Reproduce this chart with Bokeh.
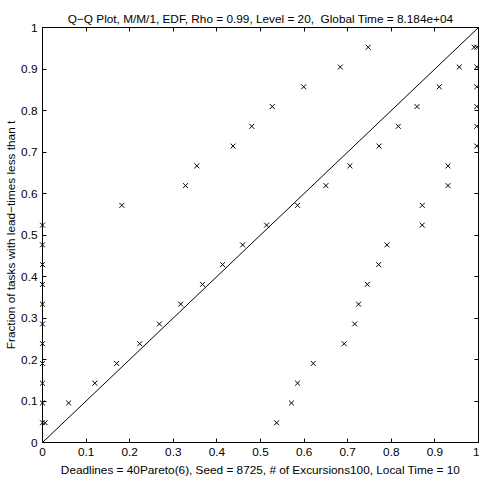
from bokeh.plotting import figure
from bokeh.models import Range1d, LinearAxis, FixedTicker
from bokeh.embed import file_html
from bokeh.resources import INLINE

# Empirical fractions (k/21) shared by all three samples
frac = [0.0476, 0.0952, 0.1429, 0.1905, 0.2381, 0.2857, 0.3333, 0.3810, 0.4286, 0.4762,
        0.5238, 0.5714, 0.6190, 0.6667, 0.7143, 0.7619, 0.8095, 0.8571, 0.9048, 0.9524]

# Quantile (x) values of the three samples
sample_a = [0.006, 0.060, 0.120, 0.170, 0.223, 0.268, 0.317, 0.367, 0.413, 0.459,
            0.514, 0.585, 0.650, 0.705, 0.772, 0.816, 0.859, 0.910, 0.956, 0.990]
sample_b = [0.0, 0.0, 0.0, 0.0, 0.0, 0.0, 0.0, 0.0, 0.0, 0.0,
            0.0, 0.182, 0.328, 0.354, 0.437, 0.480, 0.527, 0.599, 0.683, 0.747]
sample_c = [0.537, 0.571, 0.585, 0.621, 0.692, 0.716, 0.725, 0.745, 0.771, 0.790,
            0.871, 0.871, 0.930, 0.930, 0.996, 0.996, 0.996, 0.996, 0.996, 0.996]

ref_x = [0.0, 1.0]
ref_y = [0.0, 1.0]

tick_vals = [0.0, 0.1, 0.2, 0.3, 0.4, 0.5, 0.6, 0.7, 0.8, 0.9, 1.0]
tick_labels = ["0", "0.1", "0.2", "0.3", "0.4", "0.5", "0.6", "0.7", "0.8", "0.9", "1"]

title_text = "Q\u2212Q Plot, M/M/1, EDF, Rho = 0.99, Level = 20, \u00a0Global Time = 8.184e+04"
x_label = "Deadlines = 40Pareto(6), Seed = 8725, # of Excursions100, Local Time = 10"
y_label = "Fraction of tasks with lead\u2212times less than t"

FONT = "Liberation Sans"
FS = "11.8px"

p = figure(width=479, height=483, output_backend="svg", toolbar_location=None,
           x_range=Range1d(0, 1), y_range=Range1d(0, 1),
           min_border_left=42, min_border_right=1, min_border_top=27, min_border_bottom=41)
p.background_fill_color = "white"
p.border_fill_color = "white"
p.outline_line_color = "black"
p.outline_line_width = 1
p.xgrid.visible = False
p.ygrid.visible = False

p.title.text = title_text
p.title.align = "center"
p.title.text_font = FONT
p.title.text_font_size = FS
p.title.text_font_style = "normal"
p.title.text_color = "black"
p.title.standoff = 4

labels_map = {v: s for v, s in zip(tick_vals, tick_labels)}

def style_axis(ax, show_labels):
    ax.ticker = FixedTicker(ticks=tick_vals)
    ax.major_tick_in = 4
    ax.major_tick_out = 0
    ax.minor_tick_line_color = None
    ax.axis_line_color = "black"
    ax.axis_line_width = 1
    ax.major_tick_line_color = "black"
    ax.major_tick_line_width = 1
    if show_labels:
        ax.major_label_overrides = labels_map
        ax.major_label_text_font = FONT
        ax.major_label_text_font_size = FS
        ax.major_label_text_color = "black"
    else:
        ax.major_label_text_color = None
        ax.major_label_standoff = 0

xa = p.xaxis[0]
style_axis(xa, True)
xa.major_label_standoff = 5
xa.axis_label = x_label
xa.axis_label_text_font = FONT
xa.axis_label_text_font_size = FS
xa.axis_label_text_font_style = "normal"
xa.axis_label_text_color = "black"
xa.axis_label_standoff = 4

ya = p.yaxis[0]
style_axis(ya, True)
ya.major_label_standoff = 5
ya.axis_label = y_label
ya.axis_label_text_font = FONT
ya.axis_label_text_font_size = FS
ya.axis_label_text_font_style = "normal"
ya.axis_label_text_color = "black"
ya.axis_label_standoff = 0

top_ax = LinearAxis()
style_axis(top_ax, False)
p.add_layout(top_ax, "above")

right_ax = LinearAxis()
style_axis(right_ax, False)
p.add_layout(right_ax, "right")

p.line(ref_x, ref_y, line_color="black", line_width=1)
for xs in (sample_a, sample_b, sample_c):
    p.scatter(xs, frac, marker="x", size=7, line_color="black", line_width=1, level="overlay")

open("out.html", "w").write(file_html(p, INLINE))
